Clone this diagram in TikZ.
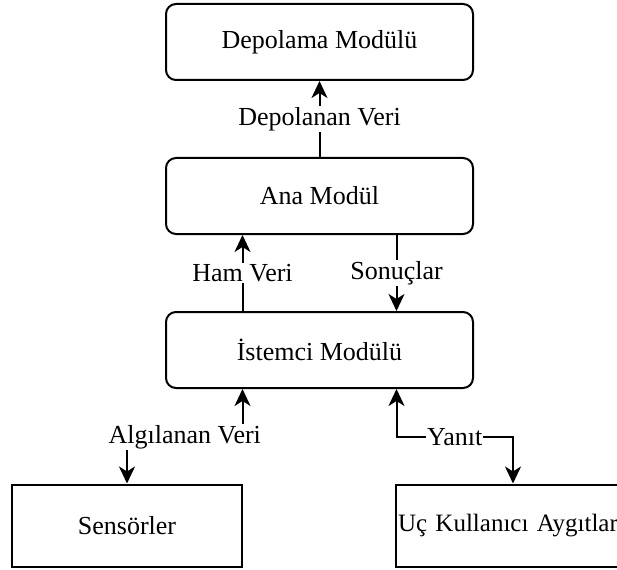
\documentclass[tikz,border=0pt]{standalone}
\usepackage{fontspec}
\setmainfont{Liberation Serif}
\usetikzlibrary{arrows.meta}
\begin{document}
\begin{tikzpicture}[x=1pt,y=-1pt,
  font=\fontsize{26}{31}\selectfont,
  line width=2pt,
  module/.style={draw, rounded corners=10pt, minimum width=307pt, minimum height=76pt, inner sep=0pt},
  device/.style={draw, minimum width=230pt, minimum height=82.5pt, inner sep=0pt},
  tip/.tip={Stealth[length=17pt,width=16pt,inset=5pt]},
  flow/.style={-tip},
  twoway/.style={tip-tip},
  lbl/.style={fill=white, inner sep=1pt}]
\useasboundingbox (0,0) rectangle (617,569);

% modules
\node[module] (store)  at (319.5,42)  {Depolama Modülü};
\node[module] (main)   at (319.5,196) {Ana Modül};
\node[module] (client) at (319.5,350) {İstemci Modülü};

% devices; the right box runs past the page edge
\node[device] (sens) at (127,525.75) {Sensörler};
\node[device, text width=230pt, inner xsep=2pt, align=left,
      font=\fontsize{25}{30}\selectfont] (user) at (513,525.75) {Uç Kullanıcı Aygıtlar};

% data flows
\draw[flow] (main.north) -- node[lbl] {Depolanan Veri} (store.south);
\draw[flow] ([xshift=-77pt]client.north) -- node[lbl] {Ham Veri} ([xshift=-77pt]main.south);
\draw[flow] ([xshift=77pt]main.south) -- node[lbl] {Sonuçlar} ([xshift=77pt]client.north);
\draw[twoway] ([xshift=-77pt]client.south) -- ++(0,48) -| node[pos=0.25,lbl] {Algılanan Veri} (sens.north);
\draw[twoway] ([xshift=77pt]client.south) -- ++(0,48) -| node[pos=0.25,lbl] {Yanıt} (user.north);
\end{tikzpicture}
\end{document}
